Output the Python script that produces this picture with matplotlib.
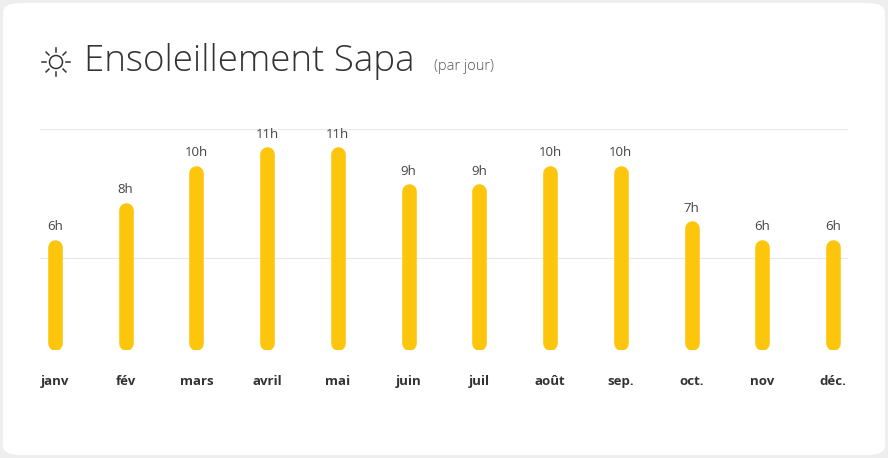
import numpy as np
import matplotlib
matplotlib.use("Agg")
import matplotlib.pyplot as plt
from matplotlib.patches import FancyBboxPatch, Circle

months = ["janv", "fév", "mars", "avril", "mai", "juin",
          "juil", "août", "sep.", "oct.", "nov", "déc."]
hours = [6, 8, 10, 11, 11, 9, 9, 10, 10, 7, 6, 6]
grid_levels = [5, 12]

W, H = 888, 458
fig = plt.figure(figsize=(W / 100, H / 100), dpi=100)
fig.patch.set_facecolor("#eeeeee")
card = FancyBboxPatch((3 / W, 3 / H), 1 - 6 / W, 1 - 6 / H,
                      boxstyle="round,pad=0,rounding_size=0.02",
                      transform=fig.transFigure, facecolor="white",
                      edgecolor="none", zorder=-5)
fig.patches.append(card)

ax = fig.add_axes([40 / W, 108 / H, 808 / W, 221 / H])
ax.set_zorder(2)
ax.set_facecolor("none")
ax.set_xlim(-0.21, 11.21)
ax.set_ylim(0, 12)
for s in ax.spines.values():
    s.set_visible(False)
ax.set_xticks([])
ax.set_yticks([])
ax.axhline(0, color="#e8e8e8", lw=0.8)
for g in grid_levels:
    ax.axhline(g, color="#e8e8e8", lw=0.8)

px_per_h = 221 / 12
cap = 7 / px_per_h
x = np.arange(len(months))
for xi, v in zip(x, hours):
    ax.plot([xi, xi], [cap, v - cap], color="#fdc50c", lw=10.5,
            solid_capstyle="round", zorder=3)
    ax.text(xi, v + 0.35, f"{v}h", ha="center", va="bottom",
            fontsize=9.5, color="#444444", family="Open Sans")
    ax.text(xi, -1.7, months[xi], ha="center", va="center",
            fontsize=9.5, fontweight="bold", color="#333333",
            family="Open Sans", clip_on=False)

# titre avec icone soleil
fig.text(84 / W, 1 - 62 / H, "Ensoleillement Sapa", fontsize=26.5,
         fontweight="light", color="#333333", family="Open Sans", va="center")
fig.text(434 / W, 1 - 67 / H, "(par jour)", fontsize=10.5,
         fontweight="light", color="#555555", family="Open Sans", va="center")
cx, cy = 56, 62
fig.patches.append(Circle((cx / 100, (H - cy) / 100), 0.065,
                          transform=fig.dpi_scale_trans,
                          fill=False, edgecolor="#333333", lw=1.1))
for a in np.arange(0, 2 * np.pi, np.pi / 4):
    x0, y0 = cx + 10 * np.cos(a), cy + 10 * np.sin(a)
    x1, y1 = cx + 14 * np.cos(a), cy + 14 * np.sin(a)
    fig.add_artist(plt.Line2D([x0 / W, x1 / W], [1 - y0 / H, 1 - y1 / H],
                              transform=fig.transFigure, color="#333333", lw=1.1))

fig.savefig("out.png", dpi=100)
